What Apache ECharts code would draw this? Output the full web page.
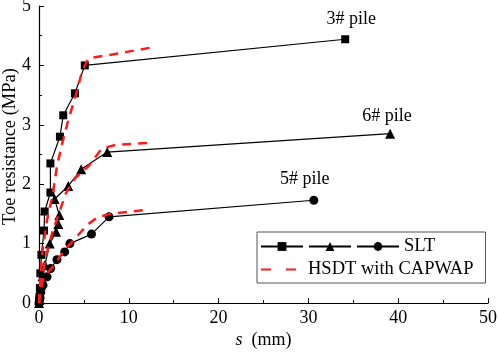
<!DOCTYPE html>
<html>
<head>
<meta charset="utf-8">
<script src="https://cdn.jsdelivr.net/npm/echarts@6/dist/echarts.min.js"></script>
<style>
html, body { margin: 0; padding: 0; background: #fff; }
#chart { width: 498px; height: 354px; }
</style>
</head>
<body>
<div id="chart"></div>
<script>
// static load test (SLT) curves, s in mm, toe resistance in MPa
var slt3S = [0, 0.05, 0.1, 0.15, 0.27, 0.56, 0.63, 1.27, 1.27, 2.33, 2.7, 4.0, 5.1, 34.1];
var slt3R = [0, 0.1, 0.25, 0.5, 0.81, 1.22, 1.54, 1.86, 2.35, 2.8, 3.16, 3.53, 4.0, 4.44];
var slt6S = [0, 0.05, 0.1, 0.2, 0.4, 0.67, 1.2, 1.9, 2.15, 2.26, 1.74, 3.26, 4.7, 7.6, 39.1];
var slt6R = [0, 0.05, 0.15, 0.3, 0.45, 0.64, 1.0, 1.2, 1.33, 1.48, 1.75, 1.97, 2.25, 2.54, 2.85];
var slt5S = [0, 0.05, 0.1, 0.2, 0.45, 0.9, 1.3, 2.0, 2.86, 3.44, 5.85, 7.8, 30.6];
var slt5R = [0, 0.04, 0.1, 0.18, 0.3, 0.44, 0.58, 0.73, 0.86, 1.0, 1.16, 1.45, 1.73];

// HSDT with CAPWAP curves
var hsdt3S = [0, 0.2, 0.4, 0.9, 1.5, 2.0, 2.6, 3.3, 4.1, 4.8, 5.5, 8.0, 12.5];
var hsdt3R = [0, 0.5, 0.9, 1.4, 1.8, 2.3, 2.7, 3.1, 3.5, 3.9, 4.12, 4.18, 4.3];
var hsdt6S = [0, 0.3, 0.8, 1.5, 2.2, 3.0, 4.0, 5.5, 7.0, 8.5, 12.7];
var hsdt6R = [0, 0.4, 0.8, 1.2, 1.5, 1.85, 2.1, 2.3, 2.6, 2.66, 2.7];
var hsdt5S = [0, 0.3, 0.6, 1.6, 2.9, 4.4, 5.5, 6.6, 8.0, 12.0];
var hsdt5R = [0, 0.3, 0.45, 0.62, 0.9, 1.15, 1.33, 1.45, 1.5, 1.57];

var pileNames = ['3# pile', '6# pile', '5# pile'];
var xTicks = [0, 10, 20, 30, 40, 50];
var yTicks = [0, 1, 2, 3, 4, 5];

var FONT = '"Liberation Serif", "Times New Roman", serif';

function pairs(xs, ys) {
	var out = [];
	for (var i = 0; i < xs.length; i++) {
		out.push([xs[i], ys[i]]);
	}
	return out;
}

// put the pile name above the last point of the curve
function withEndLabel(data, text, offset) {
	var last = data[data.length - 1];
	data[data.length - 1] = {
		value: last,
		label: {
			show: true,
			position: 'top',
			formatter: text,
			offset: offset,
			color: '#000',
			fontFamily: FONT,
			fontSize: 18
		}
	};
	return data;
}

function sltSeries(name, data, symbol, size) {
	return {
		name: name,
		type: 'line',
		data: data,
		symbol: symbol,
		symbolSize: size,
		showSymbol: true,
		lineStyle: { color: '#000', width: 1.2 },
		itemStyle: { color: '#000' },
		z: 2
	};
}

function hsdtSeries(data) {
	return {
		name: 'HSDT with CAPWAP',
		type: 'line',
		data: data,
		symbol: 'none',
		lineStyle: { color: '#ff1a1a', width: 2.5, type: [9, 7] },
		itemStyle: { color: '#ff1a1a' },
		z: 3
	};
}

var myChart = echarts.init(document.getElementById('chart'));

var option = {
	animation: false,
	textStyle: { fontFamily: FONT, color: '#000' },
	grid: { left: 39, right: 10, top: 6, bottom: 51, containLabel: false, outerBoundsMode: 'none' },
	legend: {
		left: 257,
		top: 232,
		width: 180,
		padding: [3, 12, 2, 3],
		itemWidth: 42,
		itemHeight: 11,
		itemGap: 0,
		borderColor: '#555',
		borderWidth: 1,
		selectedMode: false,
		textStyle: { fontFamily: FONT, fontSize: 18.5, color: '#000', lineHeight: 23 },
		formatter: function (name) {
			return name.indexOf('SLT ') === 0 ? '' : name;
		},
		data: [
			{ name: 'SLT 3#' },
			{ name: 'SLT 6#' },
			{ name: 'SLT' },
			{ name: 'HSDT with CAPWAP', lineStyle: { type: [10, 15] }, itemStyle: { opacity: 0 } }
		]
	},
	xAxis: {
		type: 'value',
		min: xTicks[0],
		max: xTicks[xTicks.length - 1],
		interval: 10,
		name: '{it|s}  (mm)',
		nameLocation: 'middle',
		nameGap: 28,
		nameMoveOverlap: false,
		nameTextStyle: {
			fontFamily: FONT,
			fontSize: 18,
			color: '#000',
			rich: {
				it: { fontFamily: FONT, fontSize: 18, fontStyle: 'italic', color: '#000' }
			}
		},
		axisLine: { lineStyle: { color: '#000', width: 1.2 } },
		axisTick: { inside: true, length: 5, lineStyle: { color: '#000' } },
		minorTick: { show: true, splitNumber: 2, length: 3, lineStyle: { color: '#000' } },
		splitLine: { show: false },
		axisLabel: { fontFamily: FONT, fontSize: 18, color: '#000', margin: 6 }
	},
	yAxis: {
		type: 'value',
		min: yTicks[0],
		max: yTicks[yTicks.length - 1],
		interval: 1,
		name: 'Toe resistance (MPa)',
		nameLocation: 'middle',
		nameGap: 19,
		nameMoveOverlap: false,
		nameTextStyle: { fontFamily: FONT, fontSize: 18.5, color: '#000', padding: [0, 0, 0, 16] },
		axisLine: { show: true, lineStyle: { color: '#000', width: 1.2 } },
		axisTick: { show: true, inside: true, length: 5, lineStyle: { color: '#000' } },
		minorTick: { show: true, splitNumber: 2, length: 3, lineStyle: { color: '#000' } },
		splitLine: { show: false },
		axisLabel: { fontFamily: FONT, fontSize: 18, color: '#000', margin: 8 }
	},
	series: [
		sltSeries('SLT 3#', withEndLabel(pairs(slt3S, slt3R), pileNames[0], [6, -2]), 'rect', 8),
		sltSeries('SLT 6#', withEndLabel(pairs(slt6S, slt6R), pileNames[1], [-3, 2]), 'triangle', 10),
		sltSeries('SLT', withEndLabel(pairs(slt5S, slt5R), pileNames[2], [-9, -2]), 'circle', 9),
		hsdtSeries(pairs(hsdt3S, hsdt3R)),
		hsdtSeries(pairs(hsdt6S, hsdt6R)),
		hsdtSeries(pairs(hsdt5S, hsdt5R))
	]
};

myChart.setOption(option);
</script>
</body>
</html>
